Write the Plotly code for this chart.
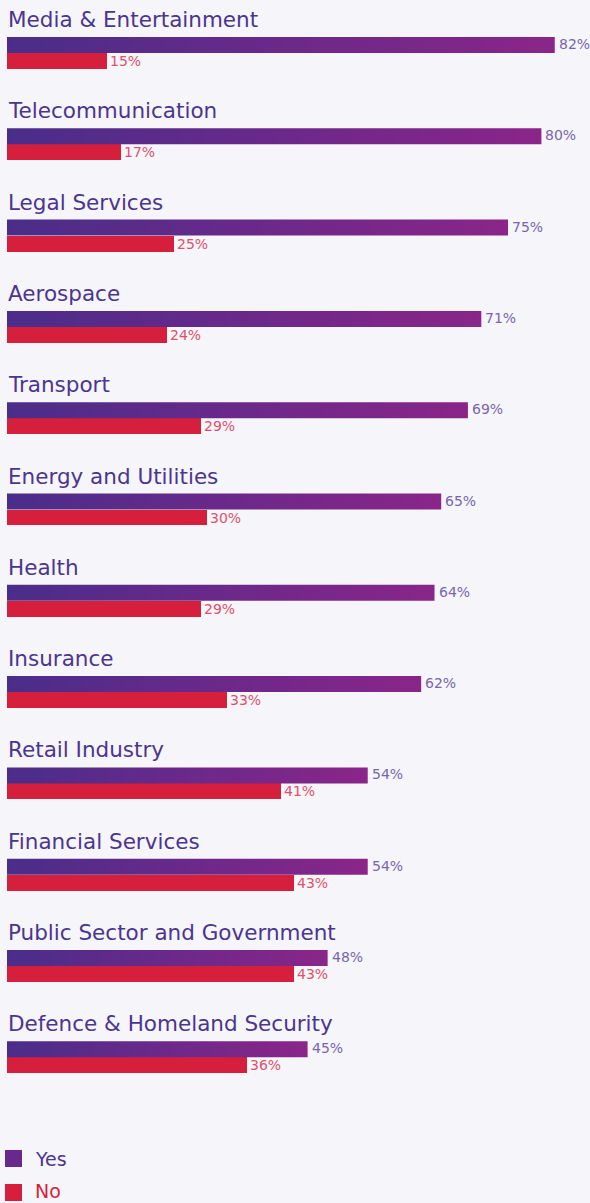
import plotly.graph_objects as go

categories = ["Media & Entertainment", "Telecommunication", "Legal Services", "Aerospace",
              "Transport", "Energy and Utilities", "Health", "Insurance", "Retail Industry",
              "Financial Services", "Public Sector and Government", "Defence & Homeland Security"]
yes_values = [82, 80, 75, 71, 69, 65, 64, 62, 54, 54, 48, 45]
no_values = [15, 17, 25, 24, 29, 30, 29, 33, 41, 43, 43, 36]
series_names = ["Yes", "No"]

BG = "#f6f5fa"
PURPLE_TXT = "#4b3590"
YES_LBL = "#7866ad"
RED = "#d61f3c"
NO_LBL = "#e0506a"
FONT = "DejaVu Sans"
H = 0.175  # bar thickness in group units

W, HT = 590, 1203
ML = 7
PLOT_H = 1120
PLOT_W = W - ML

fig = go.Figure()

# Yes bars: gradient-filled rectangles built from the values
for i, v in enumerate(yes_values):
    fig.add_trace(go.Scatter(
        x=[0, v, v, 0, 0], y=[i - H, i - H, i, i, i - H],
        mode="lines", line=dict(width=0), fill="toself",
        fillgradient=dict(type="horizontal",
                          colorscale=[[0, "#4a2d8a"], [1, "#8a2589"]]),
        hoverinfo="skip", showlegend=False, name=series_names[0]))
    fig.add_annotation(x=v, y=i - H / 2, text=f"{v}%", showarrow=False,
                       xanchor="left", xshift=2, yshift=1,
                       font=dict(family=FONT, size=14, color=YES_LBL))
    fig.add_annotation(x=0, y=i - H, text=categories[i], showarrow=False,
                       xanchor="left", yanchor="bottom", yshift=3, xshift=-1,
                       font=dict(family=FONT, size=21.5, color=PURPLE_TXT))

# No bars
fig.add_trace(go.Bar(
    x=no_values, y=[i + H / 2 for i in range(len(categories))],
    orientation="h", width=H, marker=dict(color=RED, line=dict(width=0)),
    text=[f"{v}%" for v in no_values], textposition="outside",
    constraintext="none", cliponaxis=False,
    textfont=dict(family=FONT, size=14, color=NO_LBL),
    hoverinfo="skip", showlegend=False, name=series_names[1]))

# Manual legend (paper coordinates derived from pixel layout)
def px_x(px):
    return (px - ML) / PLOT_W

def px_y(py):
    return (PLOT_H - py) / PLOT_H

legend_items = [(series_names[0], "#672a8c", PURPLE_TXT, 1150, 1159),
                (series_names[1], RED, RED, 1184, 1191)]
for name, fill, tcolor, top_px, text_px in legend_items:
    fig.add_shape(type="rect", xref="paper", yref="paper",
                  x0=px_x(5), x1=px_x(22), y0=px_y(top_px + 17), y1=px_y(top_px),
                  fillcolor=fill, line=dict(width=0))
    fig.add_annotation(xref="paper", yref="paper", x=px_x(33), y=px_y(text_px),
                       text=name, showarrow=False, xanchor="left", yanchor="middle",
                       font=dict(family=FONT, size=19, color=tcolor))

px_per_unit = 91.3
top = -53 / px_per_unit
bottom = top + PLOT_H / px_per_unit
px_per_pct = 6.68
right = PLOT_W / px_per_pct

fig.update_layout(
    width=W, height=HT,
    margin=dict(l=ML, r=0, t=0, b=HT - PLOT_H, autoexpand=False),
    paper_bgcolor=BG, plot_bgcolor=BG,
    xaxis=dict(range=[0, right], visible=False, fixedrange=True),
    yaxis=dict(range=[bottom, top], visible=False, fixedrange=True),
    showlegend=False,
    bargap=0,
)

fig.write_html("out.html", config={"displayModeBar": False},
               post_script="document.body.style.margin='0';"
                           "document.body.style.overflow='hidden';")
